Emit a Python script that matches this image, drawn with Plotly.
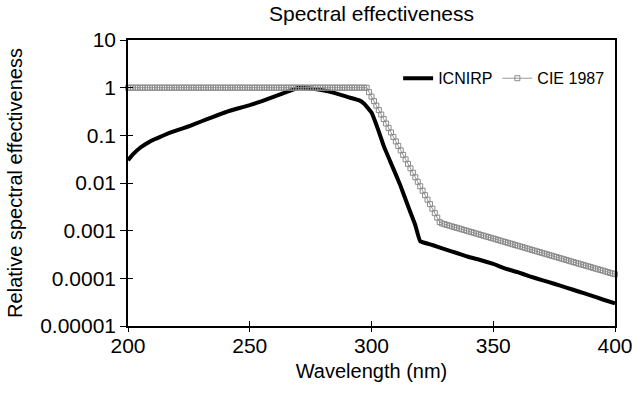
import plotly.graph_objects as go

# ---- data ----
icnirp_wl = [200, 202, 205, 208, 210, 213, 217, 220, 225, 230, 235, 240, 245, 250,
             255, 260, 265, 270, 275, 280, 285, 290, 295, 297, 300, 303, 305, 308,
             310, 312, 314, 316, 318, 320, 325, 330, 335, 340, 345, 350, 355, 360,
             365, 370, 375, 380, 385, 390, 395, 400]
icnirp_val = [0.030, 0.040, 0.055, 0.069, 0.079, 0.092, 0.112, 0.127, 0.155, 0.195,
              0.245, 0.305, 0.365, 0.43, 0.52, 0.65, 0.81, 1.0, 0.96, 0.88, 0.77,
              0.64, 0.54, 0.46, 0.30, 0.12, 0.06, 0.026, 0.015, 0.0085, 0.0045,
              0.0024, 0.0013, 0.0006, 0.0005, 0.00041, 0.00034, 0.00028, 0.00024,
              0.00020, 0.00016, 0.000135, 0.00011, 0.000092, 0.000077, 0.000064,
              0.000053, 0.000044, 0.000036, 0.000030]

cie_wl = list(range(200, 401))
cie_val = ([1.0] * 99 +
           [0.805, 0.649, 0.522, 0.421, 0.339, 0.273, 0.220, 0.177, 0.143, 0.115,
            0.0925, 0.0745, 0.0600, 0.0483, 0.0389, 0.0313, 0.0252, 0.0203, 0.0164,
            0.0132, 0.0106, 0.00855, 0.00689, 0.00555, 0.00447, 0.00360, 0.00290,
            0.00233, 0.00188, 0.00151,
            0.001413, 0.001365, 0.001318, 0.001274, 0.001230, 0.001189, 0.001148,
            0.001109, 0.001072, 0.001035, 0.001000, 0.000966, 0.000933, 0.000902,
            0.000871, 0.000841, 0.000813, 0.000785, 0.000759, 0.000733, 0.000708,
            0.000684, 0.000661, 0.000638, 0.000617, 0.000596, 0.000575, 0.000556,
            0.000537, 0.000519, 0.000501, 0.000484, 0.000468, 0.000452, 0.000437,
            0.000422, 0.000407, 0.000394, 0.000380, 0.000367, 0.000355, 0.000343,
            0.000331, 0.000320, 0.000309, 0.000299, 0.000288, 0.000279, 0.000269,
            0.000260, 0.000251, 0.000243, 0.000234, 0.000226, 0.000219, 0.000211,
            0.000204, 0.000197, 0.000191, 0.000184, 0.000178, 0.000172, 0.000166,
            0.000160, 0.000155, 0.000150, 0.000145, 0.000140, 0.000135, 0.000130,
            0.000126, 0.000122])

x_ticks = [200, 250, 300, 350, 400]
y_ticks = [0.00001, 0.0001, 0.001, 0.01, 0.1, 1, 10]
y_tick_labels = ["0.00001", "0.0001", "0.001", "0.01", "0.1", "1", "10"]

FONT = "Liberation Sans, Arial, sans-serif"

fig = go.Figure()
fig.add_trace(go.Scatter(
    x=icnirp_wl, y=icnirp_val, name="ICNIRP", mode="lines",
    line=dict(color="black", width=4, shape="spline", smoothing=0.3),
    cliponaxis=False))
fig.add_trace(go.Scatter(
    x=cie_wl, y=cie_val, name="CIE 1987", mode="lines+markers",
    line=dict(color="#9a9a9a", width=1),
    marker=dict(symbol="square-open", size=5, color="#8a8a8a",
                line=dict(width=1, color="#8a8a8a")),
    cliponaxis=False))

fig.update_layout(
    width=632, height=393,
    margin=dict(l=128, r=17, t=40, b=67),
    paper_bgcolor="white", plot_bgcolor="white",
    font=dict(family=FONT, size=21, color="black"),
    title=dict(text="Spectral effectiveness", x=0.5, xref="paper",
               y=1 - 14 / 393, yref="container", yanchor="middle",
               font=dict(size=21, family=FONT, color="black")),
    showlegend=True,
    legend=dict(orientation="h", x=0.99, xanchor="right", y=0.866,
                yanchor="middle", font=dict(size=16, family=FONT),
                bgcolor="rgba(0,0,0,0)", traceorder="normal"),
    xaxis=dict(range=[200, 400], tickvals=x_ticks, showgrid=False, zeroline=False,
               showline=True, linecolor="black", linewidth=1.5, mirror=True,
               ticks="inside", ticklen=5, tickwidth=1, tickcolor="black",
               automargin=False, ticklabeloverflow="allow",
               title=dict(text="Wavelength (nm)", standoff=8, font=dict(size=20)),
               tickfont=dict(size=21)),
    yaxis=dict(type="log", range=[-5, 1], tickvals=y_ticks, ticktext=y_tick_labels,
               showgrid=False, zeroline=False, showline=True, linecolor="black",
               linewidth=1.5, mirror=True, ticks="outside", ticklen=6, tickwidth=1,
               tickcolor="black", automargin=False, ticklabeloverflow="allow",
               title=dict(text="Relative spectral effectiveness", standoff=12,
                          font=dict(size=20)),
               tickfont=dict(size=21)),
    xaxis2=dict(overlaying="x", matches="x", range=[200, 400], tickvals=x_ticks,
                side="bottom", anchor="y", showticklabels=False, showgrid=False,
                zeroline=False, ticks="outside", ticklen=5, tickcolor="black",
                automargin=False),
    yaxis2=dict(overlaying="y", type="log", range=[-5, 1], tickvals=y_ticks,
                side="left", anchor="x", showticklabels=False, showgrid=False,
                zeroline=False, ticks="inside", ticklen=5, tickcolor="black",
                automargin=False),
)
# invisible trace to activate the extra-tick axes
fig.add_trace(go.Scatter(x=[200], y=[1], xaxis="x2", yaxis="y2", mode="markers",
                         marker=dict(opacity=0), showlegend=False, hoverinfo="skip"))

fig.write_html("out.html")
